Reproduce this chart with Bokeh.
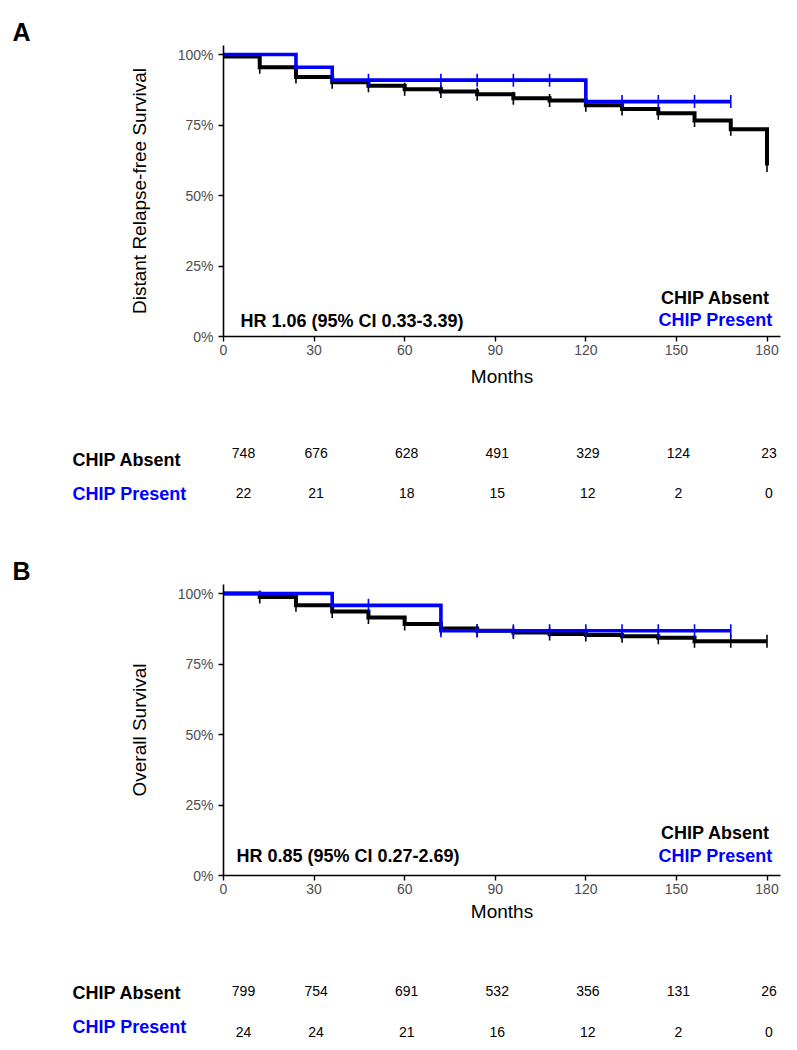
import numpy as np
from bokeh.plotting import figure
from bokeh.layouts import column
from bokeh.models import Range1d, FixedTicker, NumeralTickFormatter, ColumnDataSource
from bokeh.core.properties import value
from bokeh.embed import file_html
from bokeh.resources import INLINE

# ---------------- data ----------------
group_names = ["CHIP Absent", "CHIP Present"]
group_colors = ["#000000", "#0000FF"]
month_ticks = [0, 30, 60, 90, 120, 150, 180]
pct_ticks = [0, 0.25, 0.5, 0.75, 1.0]
risk_times = [0, 30, 60, 90, 120, 150, 180]

# Panel A: distant relapse-free survival
a_absent_time = [0, 12, 24, 36, 48, 60, 72, 84, 96, 108, 120, 132, 144, 156, 168, 180]
a_absent_surv = [0.993, 0.955, 0.920, 0.902, 0.889, 0.877, 0.869, 0.859, 0.845, 0.837,
                 0.820, 0.807, 0.792, 0.766, 0.735, 0.606]
a_absent_censor = [12, 24, 36, 48, 60, 72, 84, 96, 108, 120, 132, 144, 156, 168, 180]
a_present_time = [0, 24, 36, 120, 168]
a_present_surv = [1.0, 0.955, 0.909, 0.833, 0.833]
a_present_censor = [48, 72, 84, 96, 108, 132, 144, 156, 168]
a_hr = "HR 1.06 (95% CI 0.33-3.39)"
a_risk_absent = [748, 676, 628, 491, 329, 124, 23]
a_risk_present = [22, 21, 18, 15, 12, 2, 0]

# Panel B: overall survival
b_absent_time = [0, 12, 24, 36, 48, 60, 72, 84, 96, 108, 120, 132, 144, 156, 168, 180]
b_absent_surv = [1.0, 0.988, 0.958, 0.936, 0.915, 0.892, 0.876, 0.868, 0.862, 0.856,
                 0.853, 0.848, 0.843, 0.831, 0.831, 0.831]
b_absent_censor = [12, 24, 36, 48, 60, 72, 84, 96, 108, 120, 132, 144, 156, 168, 180]
b_present_time = [0, 36, 72, 168]
b_present_surv = [1.0, 0.958, 0.868, 0.868]
b_present_censor = [48, 72, 84, 96, 108, 120, 132, 144, 156, 168]
b_hr = "HR 0.85 (95% CI 0.27-2.69)"
b_risk_absent = [799, 754, 691, 532, 356, 131, 26]
b_risk_present = [24, 24, 21, 16, 12, 2, 0]

# ---------------- geometry (page pixels) ----------------
FONT = "Liberation Sans"
W = 797
AXIS_X = 223                 # page x of month 0
PX_PER_MONTH = 543.5 / 180.0
PX_PER_UNIT = 282.0          # pixels for 100 %
X0 = -AXIS_X / PX_PER_MONTH
X1 = (W - AXIS_X) / PX_PER_MONTH
XMAX = (780 - AXIS_X) / PX_PER_MONTH
LINE_W = [4.0, 3.6]


def mx(px):
    """page x pixel -> month coordinate"""
    return (px - AXIS_X) / PX_PER_MONTH


def surv_at(times, surv, ts):
    idx = np.searchsorted(np.array(times), np.array(ts), side="right") - 1
    return [surv[i] for i in idx]


def panel(letter, ylabel, fig_top, height, axis_y, curves, hr_text, risk_absent,
          risk_present, pos):
    def vy(py):
        return (axis_y - py) / PX_PER_UNIT

    p = figure(width=W, height=height,
               x_range=Range1d(X0, X1),
               y_range=Range1d(vy(fig_top + height), vy(fig_top)),
               output_backend="svg", toolbar_location=None,
               min_border_left=0, min_border_right=0,
               min_border_top=0, min_border_bottom=0)
    p.outline_line_color = None
    p.grid.visible = False
    p.background_fill_color = "white"
    p.border_fill_color = "white"

    p.xaxis.fixed_location = 0
    p.yaxis.fixed_location = 0
    p.xaxis.bounds = (0, XMAX)
    p.yaxis.bounds = (0, vy(axis_y - 291))
    p.xaxis.ticker = FixedTicker(ticks=month_ticks)
    p.yaxis.ticker = FixedTicker(ticks=pct_ticks)
    p.yaxis.formatter = NumeralTickFormatter(format="0%")
    p.xaxis.axis_label = "Months"
    p.yaxis.axis_label = ylabel
    for ax in (p.xaxis[0], p.yaxis[0]):
        ax.axis_line_color = "black"
        ax.axis_line_width = 1.6
        ax.major_tick_line_color = "black"
        ax.major_tick_line_width = 1.4
        ax.major_tick_out = 5
        ax.major_tick_in = 0
        ax.minor_tick_line_color = None
        ax.major_label_text_font = FONT
        ax.major_label_text_font_size = "14px"
        ax.major_label_text_color = "#4d4d4d"
        ax.axis_label_text_font = FONT
        ax.axis_label_text_font_size = "19px"
        ax.axis_label_text_font_style = "normal"
        ax.axis_label_text_color = "black"
    p.xaxis.major_label_standoff = 3
    p.xaxis.axis_label_standoff = pos["xlab_standoff"]
    p.yaxis.major_label_standoff = 5
    p.yaxis.axis_label_standoff = 25

    for (times, surv, cens), col, lw in zip(curves, group_colors, LINE_W):
        p.step(x=times, y=surv, mode="after", line_color=col, line_width=lw,
               line_join="miter")
        p.scatter(x=cens, y=surv_at(times, surv, cens), marker="dash",
                  angle=np.pi / 2, size=13, line_color=col, line_width=1.6)

    bold = dict(text_font=value(FONT), text_font_size="18px", text_font_style="bold")

    # in-plot legend labels and HR annotation
    leg = ColumnDataSource(dict(x=[mx(715)] * 2, y=[vy(pos["leg"][0]), vy(pos["leg"][1])],
                                text=group_names, color=group_colors))
    p.text(x="x", y="y", text="text", text_color="color", source=leg,
           text_align="center", text_baseline="middle", **bold)
    p.text(x=[mx(pos["hr"][0])], y=[vy(pos["hr"][1])], text=[hr_text],
           text_color="black", text_align="left", text_baseline="middle", **bold)

    # panel letter
    p.text(x=[mx(12)], y=[vy(pos["letter"])], text=[letter], text_color="black",
           text_align="left", text_baseline="alphabetic", text_font=value(FONT),
           text_font_size="25px", text_font_style="bold")

    # risk table
    lab = ColumnDataSource(dict(x=[mx(72)] * 2, y=[vy(pos["rows"][0]), vy(pos["rows"][1])],
                                text=group_names, color=group_colors))
    p.text(x="x", y="y", text="text", text_color="color", source=lab,
           text_align="left", text_baseline="middle", **bold)
    offs = [20 if t == 0 else 2 for t in risk_times]
    for counts, yy in zip((risk_absent, risk_present), pos["nums"]):
        src = ColumnDataSource(dict(x=risk_times, y=[vy(yy)] * len(risk_times),
                                    text=[str(c) for c in counts], off=offs))
        p.text(x="x", y="y", text="text", x_offset="off", source=src,
               text_align="center", text_baseline="middle", text_color="black",
               text_font=value(FONT), text_font_size="14px")
    return p


pA = panel("A", "Distant Relapse-free Survival", 0, 520, 336,
           [(a_absent_time, a_absent_surv, a_absent_censor),
            (a_present_time, a_present_surv, a_present_censor)],
           a_hr, a_risk_absent, a_risk_present,
           dict(leg=(297, 319), hr=(240, 320), letter=31,
                rows=(459, 493), nums=(452, 492), xlab_standoff=8))
pB = panel("B", "Overall Survival", 520, 530, 875,
           [(b_absent_time, b_absent_surv, b_absent_censor),
            (b_present_time, b_present_surv, b_present_censor)],
           b_hr, b_risk_absent, b_risk_present,
           dict(leg=(832, 855), hr=(236, 855), letter=570,
                rows=(992, 1026), nums=(990, 1031), xlab_standoff=4))

layout = column(pA, pB, spacing=0)
open("out.html", "w").write(file_html(layout, INLINE))
